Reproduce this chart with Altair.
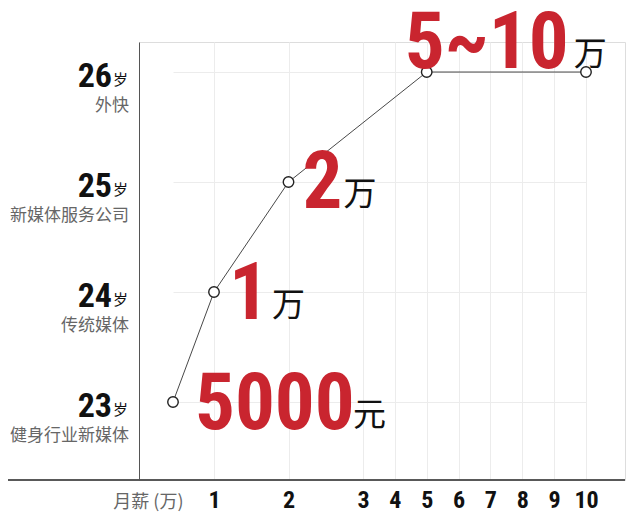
import altair as alt
import pandas as pd

# ---- data ----
salary = [0.5, 1, 2, 5, 10]
age = [23, 24, 25, 26, 26]
age_ticks = [23, 24, 25, 26]
age_notes = ["健身行业新媒体", "传统媒体", "新媒体服务公司", "外快"]
salary_ticks = [1, 2, 3, 4, 5, 6, 7, 8, 9, 10]
ann_salary = [0.5, 1, 2, 5]
ann_age = [23, 24, 25, 26]
ann_num = ["5000", "1", "2", "5~10"]
ann_unit = ["元", "万", "万", "万"]

NUM_FONT = "Roboto Condensed, Roboto, sans-serif"
CJK = "Noto Sans CJK SC"
RED = "#c9252f"
W, H = 486, 438

line_df = pd.DataFrame({"salary": salary, "age": age})
age_df = pd.DataFrame({"age": age_ticks, "note": age_notes, "unit": ["岁"] * len(age_ticks)})

xscale = alt.Scale(domain=[0.5, 1, 3, 10], range=[34, 75, 224, 447])
yscale = alt.Scale(domain=[22.291, 26.273], nice=False, zero=False)

X = alt.X("salary:Q", scale=xscale,
          axis=alt.Axis(values=salary_ticks, domain=False, ticks=False, grid=True,
                        gridColor="#ececec", gridWidth=1,
                        labelFont=NUM_FONT, labelFontWeight="bold", labelFontSize=24,
                        labelColor="#111", labelPadding=8, labelFlush=False,
                        title="月薪 (万)", titleFont=CJK, titleFontWeight="normal",
                        titleFontSize=18, titleColor="#666", titleX=44, titleY=27,
                        titleAlign="right", titleBaseline="alphabetic", titleAnchor="start"))
Y = alt.Y("age:Q", scale=yscale,
          axis=alt.Axis(values=age_ticks, labels=False, ticks=False, domain=True,
                        domainColor="#555", domainWidth=1, grid=True,
                        gridColor="#ececec", gridWidth=1, title=None))

base = alt.Chart(line_df)
line = base.mark_line(color="#333", strokeWidth=0.9).encode(x=X, y=Y)
pts = base.mark_point(shape="circle", filled=True, fill="white", stroke="#222",
                      strokeWidth=1.4, size=110, opacity=1).encode(x=X, y=Y)

xrule = base.mark_rule(color="#555", strokeWidth=1).encode(
    x=alt.value(-131), x2=alt.value(W), y=alt.value(H))

ybase = alt.Chart(age_df)
age_num = ybase.mark_text(font=NUM_FONT, fontWeight="bold", fontSize=34, color="#111",
                          align="right", baseline="alphabetic", dy=15).encode(
    x=alt.value(-27), y=alt.Y("age:Q", scale=yscale), text="age:N")
age_unit = ybase.mark_text(font=CJK, fontSize=15, color="#111",
                           align="left", baseline="alphabetic", dy=13).encode(
    x=alt.value(-26), y=alt.Y("age:Q", scale=yscale), text="unit:N")
age_note = ybase.mark_text(font=CJK, fontSize=17, color="#666",
                           align="right", baseline="middle", dy=34).encode(
    x=alt.value(-10), y=alt.Y("age:Q", scale=yscale), text="note:N")

# per-annotation offsets (styles)
num_off = [(22, 27), (15, 27), (14, 26), (-22, -4)]
unit_off = [(180, 24), (58, 24), (55, 23), (147, -7)]

layers = [xrule, line, pts, age_num, age_unit, age_note]
for i in range(len(ann_num)):
    d = pd.DataFrame({"salary": [ann_salary[i]], "age": [ann_age[i]],
                      "num": [ann_num[i]], "unit": [ann_unit[i]]})
    c = alt.Chart(d)
    layers.append(c.mark_text(font=NUM_FONT, fontWeight="bold", fontSize=79, color=RED,
                              align="left", baseline="alphabetic",
                              dx=num_off[i][0], dy=num_off[i][1]).encode(
        x=alt.X("salary:Q", scale=xscale), y=alt.Y("age:Q", scale=yscale), text="num:N"))
    layers.append(c.mark_text(font=CJK, fontSize=33, color="#111",
                              align="left", baseline="alphabetic",
                              dx=unit_off[i][0], dy=unit_off[i][1]).encode(
        x=alt.X("salary:Q", scale=xscale), y=alt.Y("age:Q", scale=yscale), text="unit:N"))

chart = alt.layer(*layers).properties(
    width=W, height=H,
    autosize=alt.AutoSizeParams(type="none"),
    padding={"left": 131, "top": 34, "right": 7, "bottom": 35},
).configure_view(stroke=None).configure(background="white")

chart.save("out.html", embed_options={"renderer": "svg", "actions": False})
